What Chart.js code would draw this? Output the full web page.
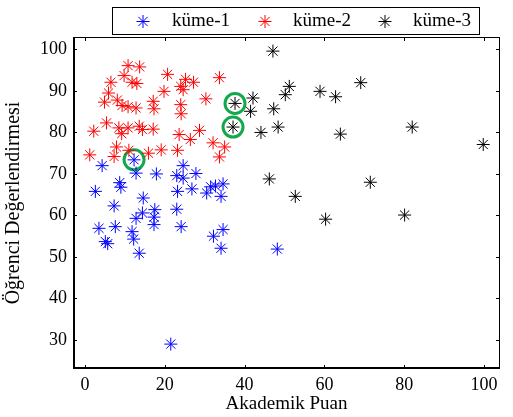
<!DOCTYPE html>
<html><head><meta charset="utf-8">
<script src="https://cdn.jsdelivr.net/npm/chart.js@4/dist/chart.umd.min.js"></script>
<style>html,body{margin:0;padding:0;background:#fff;overflow:hidden;}</style>
</head><body>
<canvas id="c" width="513" height="417" style="display:block;width:513px;height:417px"></canvas>
<script>
const seriesNames = ['küme-1', 'küme-2', 'küme-3'];
const seriesColors = ['#0000ff', '#ff0000', '#000000'];

const kume1X = [4.3,12.3,12.8,17.9,24.6,23.0,24.6,27.8,8.7,9.0,2.6,23.2,26.8,30.5,31.5,32.7,34.6,34.1,14.6,7.3,14.4,12.8,17.5,17.3,17.3,23.0,3.5,7.6,24.1,11.8,12.2,5.1,5.7,13.6,32.2,34.6,34.1,48.2,21.5];
const kume1Y = [72.0,73.4,70.2,70.0,72.0,69.6,69.0,70.1,67.9,66.8,65.8,65.8,66.4,65.4,66.9,67.1,67.6,64.6,64.2,62.3,60.6,59.3,61.4,59.6,57.8,61.5,56.9,57.3,57.3,56.1,54.3,53.7,53.2,50.9,55.0,56.6,52.1,51.9,29.0];

const kume2X = [10.8,13.7,9.8,20.7,33.7,6.5,11.8,13.0,25.2,27.2,24.0,24.6,19.8,5.9,4.9,8.1,9.3,10.8,12.8,17.1,17.3,30.3,24.0,24.1,5.4,2.2,8.5,10.8,9.2,13.6,14.4,17.1,23.6,26.4,28.7,1.2,7.3,7.9,11.0,15.9,19.1,23.2,32.1,35.0,33.7];
const kume2Y = [96.1,95.8,93.7,94.0,93.2,92.1,92.1,91.8,92.8,92.1,91.1,90.3,89.9,89.5,87.3,87.8,86.5,86.2,85.9,87.5,85.7,88.1,86.7,84.5,82.3,80.3,81.1,81.1,79.7,81.5,80.7,80.8,79.5,78.3,80.5,74.6,74.2,76.5,75.7,75.0,75.8,75.7,77.5,76.5,74.1];

const kume3X = [47.1,69.1,51.2,58.9,50.2,62.8,42.1,37.6,41.5,47.3,37.1,48.4,44.1,64.0,82.0,99.8,46.2,71.5,52.7,60.3,80.1];
const kume3Y = [99.6,92.0,91.1,89.9,89.1,88.6,88.3,87.0,85.1,85.7,81.3,81.3,80.0,79.6,81.3,77.1,68.8,68.0,64.6,59.1,60.1];

const circledX = [12.3, 37.6, 37.1];
const circledY = [73.4, 87.0, 81.3];

const xTickValues = [0, 20, 40, 60, 80, 100];
const yTickValues = [30, 40, 50, 60, 70, 80, 90, 100];
const xTitle = 'Akademik Puan';
const yTitle = 'Öğrenci Değerlendirmesi';

const FONT = '"Liberation Serif", "Times New Roman", serif';
const toPts = (xs, ys) => xs.map((x, i) => ({x: x, y: ys[i]}));

const seriesData = [toPts(kume1X, kume1Y), toPts(kume2X, kume2Y), toPts(kume3X, kume3Y)];

const datasets = seriesData.map((d, i) => ({
  label: seriesNames[i], data: d, pointStyle: 'star', radius: 6.5,
  borderColor: seriesColors[i], backgroundColor: seriesColors[i], borderWidth: 1
}));
datasets.push({
  label: 'circled', data: toPts(circledX, circledY), pointStyle: 'circle', radius: 10,
  borderColor: '#12a84b', backgroundColor: 'rgba(0,0,0,0)', borderWidth: 3
});

function drawStar(ctx, x, y, r) {
  ctx.beginPath();
  ctx.moveTo(x - r, y); ctx.lineTo(x + r, y);
  ctx.moveTo(x, y - r); ctx.lineTo(x, y + r);
  const d = r * Math.SQRT1_2;
  ctx.moveTo(x - d, y - d); ctx.lineTo(x + d, y + d);
  ctx.moveTo(x - d, y + d); ctx.lineTo(x + d, y - d);
  ctx.stroke();
}

const framePlugin = {
  id: 'frame',
  afterDatasetsDraw(chart) {
    const {ctx, chartArea: a, scales: {x, y}} = chart;
    ctx.save();
    ctx.strokeStyle = '#000';
    ctx.lineWidth = 1;
    ctx.strokeRect(a.left + 0.5, a.top + 0.5, a.right - a.left - 1, a.bottom - a.top - 1);
    ctx.lineWidth = 2;
    ctx.beginPath();
    ctx.moveTo(a.left + 1, a.top); ctx.lineTo(a.left + 1, a.bottom);
    ctx.moveTo(a.left, a.bottom - 1); ctx.lineTo(a.right, a.bottom - 1);
    ctx.stroke();
    ctx.lineWidth = 1;
    const tl = 4;
    ctx.beginPath();
    x.ticks.forEach(t => {
      const px = Math.round(x.getPixelForValue(t.value)) + 0.5;
      ctx.moveTo(px, a.bottom); ctx.lineTo(px, a.bottom - tl);
      ctx.moveTo(px, a.top); ctx.lineTo(px, a.top + tl);
    });
    y.ticks.forEach(t => {
      const py = Math.round(y.getPixelForValue(t.value)) + 0.5;
      ctx.moveTo(a.left, py); ctx.lineTo(a.left + tl, py);
      ctx.moveTo(a.right, py); ctx.lineTo(a.right - tl, py);
    });
    ctx.stroke();
    ctx.restore();
  },
  afterDraw(chart) {
    const ctx = chart.ctx;
    ctx.save();
    ctx.fillStyle = '#fff';
    ctx.fillRect(112, 7, 367, 27);
    ctx.strokeStyle = '#000';
    ctx.lineWidth = 1;
    ctx.strokeRect(112.5, 7.5, 367, 27);
    const starX = [143, 265, 385];
    const textX = [172, 293, 413];
    ctx.font = '19px ' + FONT;
    ctx.textBaseline = 'middle';
    ctx.textAlign = 'left';
    seriesNames.forEach((n, i) => {
      ctx.strokeStyle = seriesColors[i];
      ctx.lineWidth = 1;
      drawStar(ctx, starX[i], 21.5, 6.5);
      ctx.fillStyle = '#000';
      ctx.fillText(n, textX[i], 21.5);
    });
    ctx.restore();
  }
};

new Chart(document.getElementById('c'), {
  type: 'scatter',
  data: {datasets: datasets},
  options: {
    responsive: false, animation: false, devicePixelRatio: 1, events: [],
    layout: {padding: {top: 37, right: 1, left: 0, bottom: 0}},
    plugins: {legend: {display: false}, tooltip: {enabled: false}},
    scales: {
      x: {
        type: 'linear', min: -3, max: 104,
        afterBuildTicks: s => { s.ticks = xTickValues.map(v => ({value: v})); },
        afterFit: s => { s.height = 48; },
        grid: {display: false, drawTicks: false},
        border: {display: false},
        ticks: {color: '#000', font: {family: FONT, size: 18}, padding: 5, maxRotation: 0, autoSkip: false},
        title: {display: true, text: xTitle, color: '#000', font: {family: FONT, size: 19}, padding: {top: 0, bottom: 2}}
      },
      y: {
        type: 'linear', min: 23, max: 103,
        afterBuildTicks: s => { s.ticks = yTickValues.map(v => ({value: v})); },
        afterFit: s => { s.width = 73; },
        grid: {display: false, drawTicks: false},
        border: {display: false},
        ticks: {color: '#000', font: {family: FONT, size: 18}, padding: 6, autoSkip: false},
        title: {display: true, text: yTitle, color: '#000', font: {family: FONT, size: 20}, padding: {top: 2, bottom: 0}}
      }
    }
  },
  plugins: [framePlugin]
});
</script>
</body></html>
